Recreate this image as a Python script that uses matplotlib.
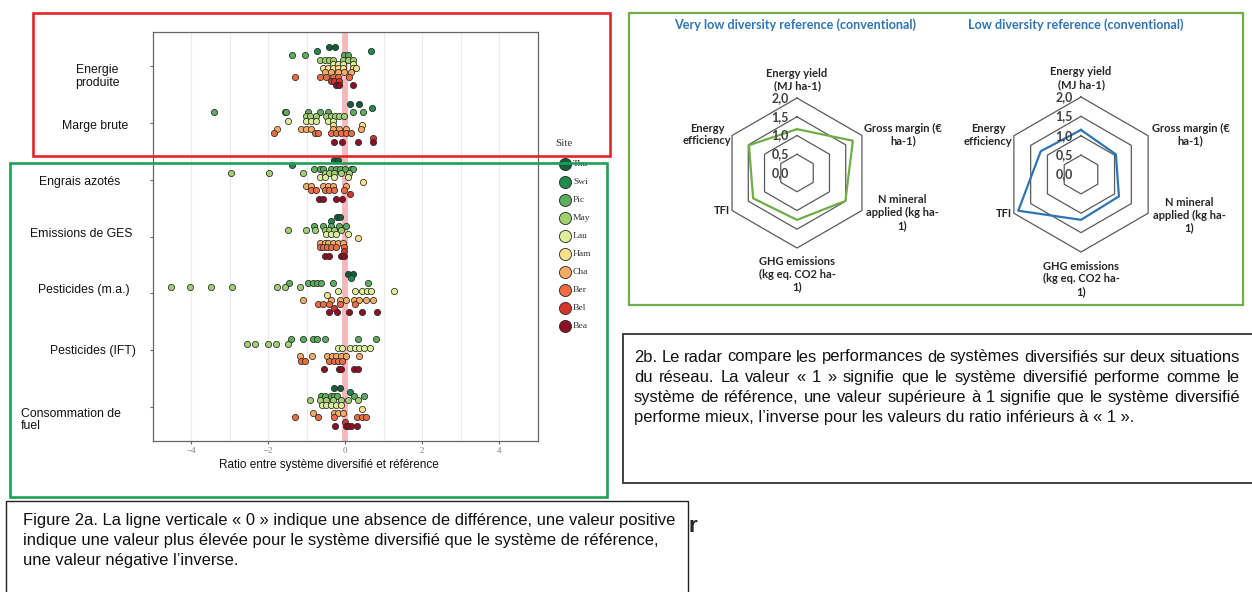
import matplotlib
matplotlib.use('Agg')
import matplotlib.pyplot as plt
from matplotlib.patches import Rectangle
import numpy as np

W, H = 1252, 592
SANS = 'Liberation Sans'
NARROW = ['Liberation Sans Narrow', 'Liberation Sans']
SERIF = 'Liberation Serif'
CAL = 'Lato'

# --- panel 2a : ratio per site and indicator ---
sites = ['Thu', 'Swi', 'Pic', 'May', 'Lau', 'Ham', 'Cha', 'Ber', 'Bel', 'Bea']
site_colors = ['#11603a', '#1e8a4c', '#5cad5e', '#a0d070', '#dcee9a',
               '#fde08e', '#f8ab62', '#ef6c42', '#d4362a', '#8d0e25']

categories = ['Energie\nproduite', 'Marge brute', 'Engrais azotés', 'Emissions de GES',
              'Pesticides (m.a.)', 'Pesticides (IFT)', 'Consommation de\nfuel']

energie_produite = {
    'Thu': [-0.41, -0.26],
    'Swi': [-0.73, 0.67],
    'Pic': [-1.38, -1.03, -0.02, 0.07],
    'May': [-0.66, -0.53, -0.41, -0.32, -0.06, 0.07, 0.20],
    'Lau': [-0.32, -0.19, -0.06, 0.20],
    'Ham': [-0.58, -0.45, -0.32, -0.19, -0.06, 0.20, 0.28],
    'Cha': [-0.53, -0.36, -0.19, -0.02, 0.16],
    'Ber': [-1.29, -0.66, -0.49, -0.32, -0.19, 0.11],
    'Bel': [-0.36, -0.28, -0.15],
    'Bea': [-0.23, -0.15, 0.20],
}
marge_brute = {
    'Thu': [0.13, 0.37],
    'Swi': [0.70],
    'Pic': [-3.40, -1.57, -1.53, -0.95, -0.65, -0.43, 0.21, 0.48],
    'May': [-1.01, -0.90, -0.75, -0.49, -0.36, -0.26, -0.15, -0.02],
    'Lau': [-1.47, -1.01, -0.88, -0.75, -0.45, -0.32],
    'Ham': [-0.32, 0.43],
    'Cha': [-1.76, -1.14, -1.01, -0.88, -0.32, -0.15, 0.03, 0.41],
    'Ber': [-1.84, -0.79, -0.71, -0.36, -0.23, -0.10, 0.03, 0.16],
    'Bel': [0.74],
    'Bea': [-0.28, -0.09, 0.33, 0.74],
}
engrais_azotes = {
    'Thu': [-0.29, -0.19],
    'Swi': [-1.37],
    'Pic': [-0.81, -0.66, -0.56, -0.36, -0.23, -0.12, 0.01, 0.16, 0.20],
    'May': [-2.97, -1.98, -1.09, -0.53, -0.41, -0.28, -0.10, 0.11],
    'Lau': [-0.66, -0.53, -0.28, 0.09],
    'Ham': [0.47],
    'Cha': [-1.01, -0.88, -0.58, -0.45, -0.32, 0.03],
    'Ber': [-0.88, -0.75, -0.53, -0.41, -0.28, -0.02],
    'Bel': [0.14],
    'Bea': [-0.68, -0.58, -0.23, -0.09],
}
emissions_ges = {
    'Thu': [-0.21, -0.12],
    'Swi': [-0.36],
    'Pic': [-0.81, -0.58, -0.36, -0.15, 0.03],
    'May': [-1.48, -1.01, -0.78, -0.53, -0.41, -0.28, -0.10],
    'Lau': [-0.49, -0.36, -0.23, 0.07],
    'Ham': [0.33],
    'Cha': [-0.64, -0.53, -0.45, -0.32, -0.19, -0.06],
    'Ber': [-0.66, -0.58, -0.47, -0.36, -0.23, -0.02],
    'Bel': [-0.02],
    'Bea': [-0.52, -0.41, -0.10, -0.02],
}
pesticides_ma = {
    'Thu': [0.09, 0.20],
    'Swi': [0.16],
    'Pic': [-1.46, -0.95, -0.84, -0.73, -0.62, -0.30, 0.59],
    'May': [-4.52, -4.03, -3.48, -2.93, -1.76, -1.57, -1.16],
    'Lau': [-0.19, 0.26, 0.44, 0.57, 0.67, 1.26],
    'Ham': [-0.47],
    'Cha': [-1.08, -0.36, -0.12, 0.03, 0.24, 0.37, 0.54, 0.72],
    'Ber': [-0.71, -0.58, -0.41, -0.12, 0.26],
    'Bel': [-0.28],
    'Bea': [-0.41, -0.22, 0.11, 0.43, 0.82],
}
pesticides_ift = {
    'Pic': [-1.40, -1.09, -0.82, -0.73, -0.51, 0.33, 0.80],
    'May': [-2.54, -2.33, -2.00, -1.78, -1.48],
    'Lau': [-0.19, -0.09, 0.13, 0.26, 0.37, 0.50, 0.65],
    'Cha': [-1.16, -0.85, -0.47, -0.34, -0.23, -0.10, 0.03, 0.37],
    'Ber': [-1.14, -1.03, -0.41, -0.29, -0.17, -0.08],
    'Bea': [-0.55, -0.16, -0.10, 0.24, 0.33],
}
conso_fuel = {
    'Thu': [-0.28, -0.12],
    'Swi': [0.13],
    'Pic': [-0.62, -0.53, -0.36, -0.29, -0.21, 0.24, 0.50],
    'May': [-0.90, -0.66, -0.49, -0.32, -0.10, 0.07, 0.33],
    'Lau': [-0.60, -0.49, -0.36, -0.23, -0.10],
    'Ham': [0.44],
    'Cha': [-0.82, -0.28, -0.17, -0.06],
    'Ber': [-1.29, -0.71, -0.29, 0.31, 0.43, 0.54],
    'Bel': [0.00],
    'Bea': [-0.26, 0.03, 0.09, 0.16, 0.31],
}
category_data = [energie_produite, marge_brute, engrais_azotes, emissions_ges,
                 pesticides_ma, pesticides_ift, conso_fuel]
x_ticks = [-4, -2, 0, 2, 4]

# --- panel 2b : radars ---
radar_labels = ['Energy yield\n(MJ ha-1)', 'Gross margin (€\nha-1)', 'N mineral\napplied (kg ha-\n1)',
                'GHG emissions\n(kg eq. CO2 ha-\n1)', 'TFI', 'Energy\nefficiency']
radar_ticks = [0.0, 0.5, 1.0, 1.5, 2.0]
radar_very_low = [1.17, 1.72, 1.49, 1.25, 1.35, 1.48]
radar_low = [1.15, 1.04, 1.13, 1.17, 1.87, 1.20]

caption_2a = ['Figure 2a. La ligne verticale « 0 » indique une absence de différence, une valeur positive',
              'indique une valeur plus élevée pour le système diversifié que le système de référence,',
              'une valeur négative l’inverse.']
caption_2b = ['2b. Le radar compare les performances de systèmes diversifiés sur deux situations',
              'du réseau. La valeur « 1 » signifie que le système diversifié performe comme le',
              'système de référence, une valeur supérieure à 1 signifie que le système diversifié',
              'performe mieux, l’inverse pour les valeurs du ratio inférieurs à « 1 ».']


def px_box(x0, y0, x1, y1):
    return [x0 / W, 1 - y1 / H, (x1 - x0) / W, (y1 - y0) / H]


fig = plt.figure(figsize=(W / 100, H / 100), dpi=100)
renderer = fig.canvas.get_renderer()

# overlay in pixel units for frames and free text
pix = fig.add_axes([0, 0, 1, 1], zorder=5)
pix.set_xlim(0, W)
pix.set_ylim(H, 0)
pix.axis('off')
pix.patch.set_alpha(0)


def text_width(txt, size, family=SANS, weight='normal'):
    t = pix.text(0, 0, txt, family=family, fontsize=size, fontweight=weight)
    w = t.get_window_extent(renderer).width
    t.remove()
    return w


# ---------------- strip plot ----------------
ax = fig.add_axes(px_box(152.5, 32, 537.5, 441))
ax.set_xlim(-5, 5)
ax.set_ylim(7.6, 0.4)
ax.axvspan(-0.078, 0.078, color='#f5a3a8', alpha=0.75, lw=0, zorder=1)
for ci, data in enumerate(category_data):
    for si, site in enumerate(sites):
        xs = data.get(site, [])
        if not xs:
            continue
        ys = [ci + 1 - 0.34 + si * 0.075] * len(xs)
        ax.scatter(xs, ys, s=20, c=site_colors[si], edgecolors='#262626', linewidths=0.55, zorder=3)

ax.set_xticks(x_ticks)
ax.set_xticks(range(-5, 6), minor=True)
ax.tick_params(axis='x', which='minor', length=0)
ax.grid(axis='x', which='both', color='#ebebeb', lw=0.8)
ax.set_axisbelow(True)
ax.set_yticks(range(1, 8))
ax.set_yticklabels([])
ax.tick_params(axis='both', which='major', length=2.5, color='#666666', width=0.8)
ax.tick_params(axis='x', labelsize=6.5, labelcolor='#808080', pad=2)
for lbl in ax.get_xticklabels():
    lbl.set_fontfamily(SERIF)
for sp in ax.spines.values():
    sp.set_color('#666666')
    sp.set_linewidth(0.9)

ylabel_x = [97, 95, 80, 81, 84, 93, 21]
ylabel_y = [76.5, 126, 182, 234, 290, 351, 420]
for i, txt in enumerate(categories):
    ha = 'left' if i == len(categories) - 1 else 'center'
    pix.text(ylabel_x[i], ylabel_y[i], txt, ha=ha, va='center', ma=ha, family=SANS,
             fontsize=8.8, color='#111111', linespacing=1.05)

pix.text(329, 465, 'Ratio entre système diversifié et référence', ha='center', va='center',
         family=SANS, fontsize=8.5, color='#111111')

# legend
pix.text(564, 144, 'Site', ha='center', va='center', family=SERIF, fontsize=8, color='#333333')
leg_x, leg_y0, leg_step = 565, 164, 18
for i, (site, col) in enumerate(zip(sites, site_colors)):
    y = leg_y0 + i * leg_step
    pix.scatter([leg_x], [y], s=76, c=col, edgecolors='#262626', linewidths=0.6, zorder=6)
    pix.text(leg_x + 8, y, site, ha='left', va='center', family=SERIF, fontsize=6.8, color='#333333')

# ---------------- radars ----------------
angles = np.deg2rad([90, 30, -30, -90, -150, 150])
closed = np.append(angles, angles[0])
label_offsets = [(0, -93.5), (106, -38.5), (105, 39.5), (0, 101), (-75, 38), (-90, -38.5)]
label_size = 7.5 * 77 / text_width('Gross margin (€', 7.5, CAL, 'bold')
title_size = 8 * 244 / text_width('Very low diversity reference (conventional)', 8, CAL, 'bold')


def draw_radar(cx, cy, R, values, color, title, title_x):
    scale = R / 2.0
    half = 110
    rax = fig.add_axes(px_box(cx - half, cy - half, cx + half, cy + half))
    lim = half / scale
    rax.set_xlim(-lim, lim)
    rax.set_ylim(-lim, lim)
    rax.axis('off')
    rax.patch.set_alpha(0)
    for v in radar_ticks[1:]:
        rax.plot(v * np.cos(closed), v * np.sin(closed), color='#5a5a5a', lw=0.9)
    vals = np.append(values, values[0])
    rax.plot(vals * np.cos(closed), vals * np.sin(closed), color=color, lw=1.6, zorder=3)
    for v in radar_ticks:
        rax.text(-8 / scale, v, ('%.1f' % v).replace('.', ','), ha='right', va='center',
                 family=CAL, fontweight='bold', fontsize=9, color='#404040', zorder=4)
    k = R / 75.0
    for lbl, (dx, dy) in zip(radar_labels, label_offsets):
        pix.text(cx + dx * k, cy + dy * k, lbl, ha='center', va='center', ma='center',
                 family=CAL, fontweight='bold', fontsize=label_size, color='#262626', linespacing=1.2)
    pix.text(title_x, 25, title, ha='center', va='center', family=CAL, fontweight='bold',
             fontsize=title_size, color='#2e75b6')


draw_radar(797, 173, 75, radar_very_low, '#70ad47', 'Very low diversity reference (conventional)', 795)
draw_radar(1081, 174.5, 77.5, radar_low, '#2e75b6', 'Low diversity reference (conventional)', 1076)

# ---------------- frames ----------------
pix.add_patch(Rectangle((33, 13), 577, 143, fill=False, ec='#e3262a', lw=1.9, zorder=10))
pix.add_patch(Rectangle((10, 163), 597, 334, fill=False, ec='#1fa155', lw=1.9, zorder=10))
pix.add_patch(Rectangle((629, 13), 614, 292, fill=False, ec='#72ad4c', lw=1.6, zorder=10))

# hidden heading letter peeking out behind caption box
pix.text(688, 532, 'r', ha='left', va='baseline', family=SANS, fontweight='bold', fontsize=16,
         color='#222222', zorder=7)
pix.add_patch(Rectangle((6, 501), 682, 120, fc='white', ec='#222222', lw=1.0, zorder=8))
pix.add_patch(Rectangle((623, 334), 660, 149, fc='white', ec='#333333', lw=1.3, zorder=8))

# caption 2a, left aligned
size_a = 10 * 652 / text_width(caption_2a[0], 10)
for i, line in enumerate(caption_2a):
    pix.text(23, 520 + i * 20, line, ha='left', va='center', family=SANS, fontsize=size_a,
             color='#111111', zorder=9)

# caption 2b, justified
x_left, x_right = 634, 1240
size_b = 10 * (x_right - x_left - 8) / text_width(caption_2b[2], 10, NARROW)
for i, line in enumerate(caption_2b):
    y = 357 + i * 20.3
    if i == len(caption_2b) - 1:
        pix.text(x_left, y, line, ha='left', va='center', family=NARROW, fontsize=size_b,
                 color='#111111', zorder=9)
        continue
    words = line.split(' ')
    widths = [text_width(wd, size_b, NARROW) for wd in words]
    gap = (x_right - x_left - sum(widths)) / (len(words) - 1)
    x = x_left
    for wd, w in zip(words, widths):
        pix.text(x, y, wd, ha='left', va='center', family=NARROW, fontsize=size_b,
                 color='#111111', zorder=9)
        x += w + gap

fig.savefig('out.png', dpi=100)
